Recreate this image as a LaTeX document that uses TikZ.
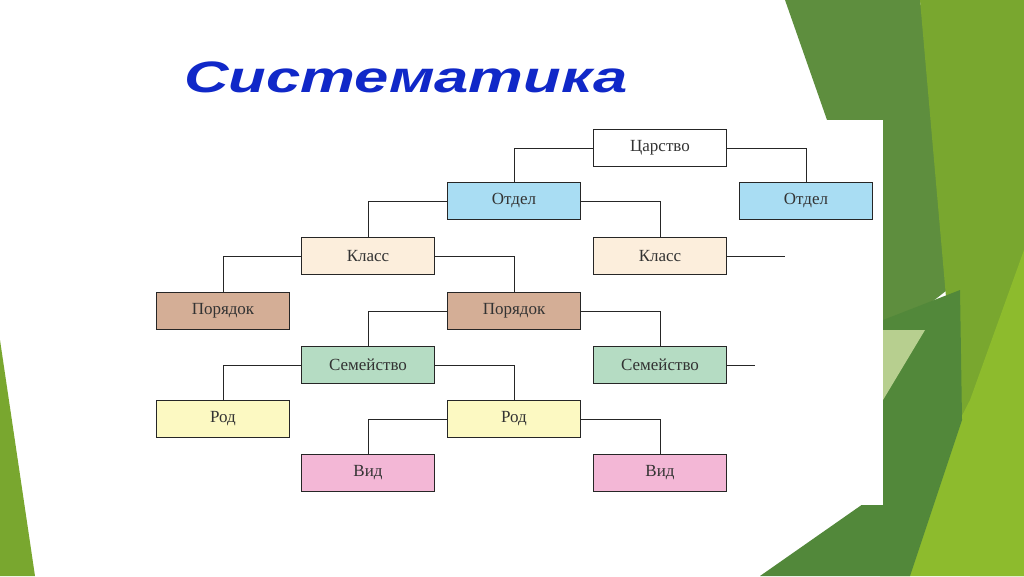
\documentclass[tikz,border=0pt]{standalone}
\usepackage{fontspec}
\setmainfont{Liberation Serif}
\newfontfamily\titlefont{Liberation Sans}
\usetikzlibrary{positioning}
\definecolor{cOtdel}{HTML}{A9DDF3}
\definecolor{cKlass}{HTML}{FCEEDC}
\definecolor{cPor}{HTML}{D4AE96}
\definecolor{cSem}{HTML}{B5DCC3}
\definecolor{cRod}{HTML}{FCF9C2}
\definecolor{cVid}{HTML}{F3B7D6}
\definecolor{gMid}{HTML}{5E8E3E}
\definecolor{gLight}{HTML}{79A72F}
\definecolor{gBright}{HTML}{8DBB2D}
\definecolor{gDark}{HTML}{52883A}
\definecolor{gPale}{HTML}{B7CF8F}
\definecolor{cTitle}{HTML}{1028C8}
\tikzset{
  taxon/.style={draw=black!85, line width=0.8pt, minimum width=133pt, minimum height=37pt,
    inner sep=0pt, font=\fontsize{17}{19}\selectfont, text=black!80},
  link/.style={draw=black!85, line width=0.8pt}
}
\begin{document}
\begin{tikzpicture}[x=1pt, y=-1pt]
	% Background
	\useasboundingbox (0,0) rectangle (1024,576);
	\fill[white] (0,0) rectangle (1024,576);
	\fill[gMid] (785,0) -- (920,0) -- (960,280) -- (883,340) -- (883,120) -- (827,120) -- cycle;
	\fill[gLight] (920,0) -- (1024,0) -- (1024,576) -- (970,576) -- (955,400) -- cycle;
	\fill[gBright] (1024,250) -- (1024,576) -- (880,576) -- (970,400) -- cycle;
	\fill[gDark] (883,320) -- (960,290) -- (962,420) -- (910,576) -- (760,576) -- (883,490) -- cycle;
	\fill[gPale] (883,330) -- (925,330) -- (883,400) -- cycle;
	\fill[gLight] (0,340) -- (35,576) -- (0,576) -- cycle;
	\fill[white] (150,120) rectangle (883,505);

	% Title
	\node (title) at (406,77) [xscale=1.4, text=cTitle]
	{\titlefont\bfseries\itshape\fontsize{44}{48}\selectfont Систематика};

	% Nodes
	\node [taxon, fill=white]  (tsar) at (660,148) {Царство};
	\node [taxon, fill=cOtdel] (otd1) at (514,201) {Отдел};
	\node [taxon, fill=cOtdel] (otd2) at (806,201) {Отдел};
	\node [taxon, fill=cKlass] (kl1)  at (368,256) {Класс};
	\node [taxon, fill=cKlass] (kl2)  at (660,256) {Класс};
	\node [taxon, fill=cPor]   (por1) at (223,311) {Порядок};
	\node [taxon, fill=cPor]   (por2) at (514,311) {Порядок};
	\node [taxon, fill=cSem]   (sem1) at (368,365) {Семейство};
	\node [taxon, fill=cSem]   (sem2) at (660,365) {Семейство};
	\node [taxon, fill=cRod]   (rod1) at (223,419) {Род};
	\node [taxon, fill=cRod]   (rod2) at (514,419) {Род};
	\node [taxon, fill=cVid]   (vid1) at (368,473) {Вид};
	\node [taxon, fill=cVid]   (vid2) at (660,473) {Вид};
	\coordinate (klend)  at (785,256);
	\coordinate (semend) at (755,365);

	% Paths
	\foreach \p/\a/\b in {tsar/otd1/otd2, otd1/kl1/kl2, kl1/por1/por2,
	                      por2/sem1/sem2, sem1/rod1/rod2, rod2/vid1/vid2} {
		\draw [link] (\p.west) -| (\a.north);
		\draw [link] (\p.east) -| (\b.north);
	}
	\draw [link] (kl2.east) -- (klend);
	\draw [link] (sem2.east) -- (semend);
\end{tikzpicture}
\end{document}
